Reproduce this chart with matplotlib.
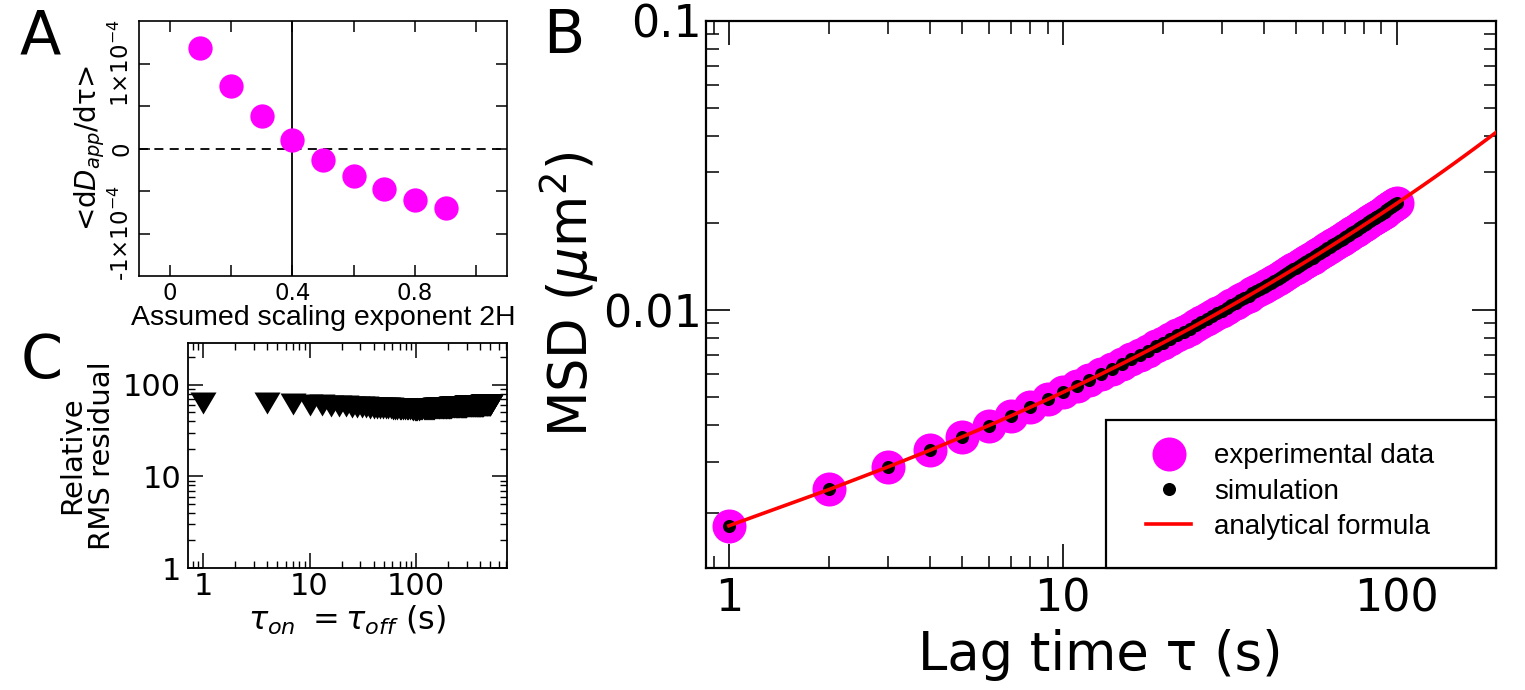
import matplotlib
matplotlib.use('Agg')
import matplotlib.pyplot as plt
from matplotlib.patches import Rectangle
from matplotlib.ticker import FixedLocator, FixedFormatter, LogLocator, NullFormatter

# ---------------- data ----------------
# Panel A
exponent_2h = [0.1, 0.2, 0.3, 0.4, 0.5, 0.6, 0.7, 0.8, 0.9]
ddapp_dtau = [1.18e-4, 0.741e-4, 0.388e-4, 0.102e-4, -0.133e-4,
              -0.318e-4, -0.479e-4, -0.600e-4, -0.698e-4]

# Panel B (MSD in units of 1e-3 um^2)
lag_time = list(range(1, 101))
msd_exp_e3 = [
    1.801, 2.405, 2.877, 3.284, 3.653, 3.995, 4.317, 4.624, 4.919, 5.204,
    5.480, 5.749, 6.012, 6.270, 6.522, 6.770, 7.015, 7.256, 7.493, 7.728,
    7.960, 8.190, 8.417, 8.642, 8.866, 9.087, 9.306, 9.525, 9.742, 9.956,
    10.170, 10.382, 10.593, 10.803, 11.012, 11.219, 11.426, 11.632, 11.837, 12.041,
    12.244, 12.446, 12.648, 12.848, 13.048, 13.247, 13.446, 13.644, 13.841, 14.038,
    14.234, 14.430, 14.625, 14.820, 15.014, 15.207, 15.400, 15.592, 15.784, 15.976,
    16.167, 16.358, 16.548, 16.738, 16.927, 17.117, 17.305, 17.494, 17.681, 17.870,
    18.056, 18.243, 18.430, 18.616, 18.802, 18.988, 19.173, 19.358, 19.544, 19.728,
    19.912, 20.096, 20.281, 20.464, 20.647, 20.830, 21.013, 21.196, 21.378, 21.560,
    21.742, 21.924, 22.105, 22.287, 22.468, 22.648, 22.829, 23.010, 23.190, 23.370]
msd_sim_e3 = list(msd_exp_e3)
formula_tau = lag_time + [110, 120, 130, 140, 150, 160, 170, 180, 190, 200]
formula_msd_e3 = msd_exp_e3 + [25.2, 27.0, 28.8, 30.6, 32.4, 34.2, 36.0, 37.8, 39.6, 41.4]

# Panel C
tau_on_off = list(range(1, 500, 3))
rms_residual = [
    63.5, 63.5, 61.7, 60.6, 59.8, 59.1, 58.6, 58.1, 57.7, 57.4,
    57.1, 56.8, 56.5, 56.3, 56.1, 55.9, 55.7, 55.5, 55.4, 55.2,
    55.0, 54.9, 54.7, 54.6, 54.5, 54.4, 54.2, 54.1, 54.0, 53.9,
    53.8, 53.7, 53.6, 53.5, 53.6, 53.7, 53.8, 53.9, 54.0, 54.1,
    54.3, 54.4, 54.5, 54.6, 54.7, 54.7, 54.8, 54.9, 55.0, 55.1,
    55.2, 55.2, 55.3, 55.4, 55.5, 55.5, 55.6, 55.7, 55.8, 55.8,
    55.9, 56.0, 56.0, 56.1, 56.2, 56.2, 56.3, 56.3, 56.4, 56.5,
    56.5, 56.6, 56.6, 56.7, 56.7, 56.8, 56.9, 56.9, 57.0, 57.0,
    57.1, 57.1, 57.2, 57.2, 57.3, 57.3, 57.4, 57.4, 57.5, 57.5,
    57.6, 57.6, 57.6, 57.7, 57.7, 57.8, 57.8, 57.9, 57.9, 58.0,
    58.0, 58.0, 58.1, 58.1, 58.2, 58.2, 58.2, 58.3, 58.3, 58.4,
    58.4, 58.4, 58.5, 58.5, 58.5, 58.6, 58.6, 58.7, 58.7, 58.7,
    58.8, 58.8, 58.8, 58.9, 58.9, 58.9, 59.0, 59.0, 59.0, 59.1,
    59.1, 59.1, 59.2, 59.2, 59.2, 59.3, 59.3, 59.3, 59.3, 59.4,
    59.4, 59.4, 59.5, 59.5, 59.5, 59.6, 59.6, 59.6, 59.6, 59.7,
    59.7, 59.7, 59.8, 59.8, 59.8, 59.8, 59.9, 59.9, 59.9, 60.0,
    60.0, 60.0, 60.0, 60.1, 60.1, 60.1, 60.2]

MAGENTA = '#ff00ff'
W, H = 1525, 690

fig = plt.figure(figsize=(W / 100, H / 100), dpi=100)


def rect(l, t, r, b):
    return [l / W, 1 - b / H, (r - l) / W, (b - t) / H]


# ---------------- Panel A ----------------
axA = fig.add_axes(rect(139, 21, 507, 276))
axA.plot(exponent_2h, ddapp_dtau, 'o', color=MAGENTA, ms=17.5, mec='none', zorder=3)
axA.axvline(0.4, color='black', lw=1.3, zorder=2)
axA.axhline(0.0, color='black', lw=1.3, ls=(0, (5, 3.5)), zorder=2)
axA.set_xlim(-0.1, 1.1)
axA.set_ylim(-1.5e-4, 1.5e-4)
axA.xaxis.set_major_locator(FixedLocator([0, 0.4, 0.8]))
axA.xaxis.set_major_formatter(FixedFormatter(['0', '0.4', '0.8']))
axA.xaxis.set_minor_locator(FixedLocator([0.2, 0.6, 1.0]))
axA.yaxis.set_major_locator(FixedLocator([-1e-4, 0, 1e-4]))
axA.yaxis.set_major_formatter(FixedFormatter([r'-1$\times$10$^{-4}$', '0', r'1$\times$10$^{-4}$']))
axA.yaxis.set_minor_locator(FixedLocator([-0.5e-4, 0.5e-4]))
axA.tick_params(which='both', direction='in', top=True, right=True, length=8, width=1.1,
                labelsize=16.5, pad=4)
for lab in axA.get_yticklabels():
    lab.set_rotation(90)
    lab.set_va('center')
for s in axA.spines.values():
    s.set_linewidth(1.2)
axA.set_xlabel('Assumed scaling exponent 2H', family='Liberation Sans', fontsize=20.5, labelpad=0)
axA.set_ylabel('<d$D_{app}$/dτ>', fontsize=20, labelpad=1)

# ---------------- Panel C ----------------
axC = fig.add_axes(rect(188, 343, 507, 568))
tri = [(-1, 0.846), (1, 0.846), (0, -0.846)]
axC.plot(tau_on_off, rms_residual, ls='none', marker=tri, ms=18.7, color='black', mec='none')
axC.set_xscale('log')
axC.set_yscale('log')
axC.set_xlim(0.723, 715)
axC.set_ylim(1, 286)
for a in (axC.xaxis, axC.yaxis):
    a.set_major_locator(FixedLocator([1, 10, 100]))
    a.set_major_formatter(FixedFormatter(['1', '10', '100']))
    a.set_minor_locator(LogLocator(base=10, subs=range(2, 10), numticks=20))
    a.set_minor_formatter(NullFormatter())
axC.tick_params(which='major', direction='in', top=True, right=True, length=11, width=1.1,
                labelsize=22)
axC.tick_params(which='minor', direction='in', top=True, right=True, length=5, width=1.0)
axC.tick_params(axis='x', which='major', pad=3)
axC.tick_params(axis='y', which='major', pad=5)
for s in axC.spines.values():
    s.set_linewidth(1.3)
axC.set_xlabel(r'$\tau_{on}$ $=\tau_{off}$ (s)', fontsize=23, labelpad=2)
axC.set_ylabel('Relative\nRMS residual', fontsize=21, labelpad=5, linespacing=1.1)

# ---------------- Panel B ----------------
axB = fig.add_axes(rect(705.7, 20.7, 1495.7, 567.7))
msd_exp = [v * 1e-3 for v in msd_exp_e3]
msd_sim = [v * 1e-3 for v in msd_sim_e3]
formula_msd = [v * 1e-3 for v in formula_msd_e3]
axB.plot(lag_time, msd_exp, 'o', color=MAGENTA, ms=24.5, mec='none', zorder=2,
         label='experimental data')
axB.plot(lag_time, msd_sim, 'o', color='black', ms=9.4, mec='none', zorder=3,
         label='simulation')
axB.plot(formula_tau, formula_msd, '-', color='red', lw=2.6, zorder=4,
         label='analytical formula')
axB.set_xscale('log')
axB.set_yscale('log')
axB.set_xlim(0.852, 198)
axB.set_ylim(0.00129, 0.1)
axB.xaxis.set_major_locator(FixedLocator([1, 10, 100]))
axB.xaxis.set_major_formatter(FixedFormatter(['1', '10', '100']))
axB.yaxis.set_major_locator(FixedLocator([0.01, 0.1]))
axB.yaxis.set_major_formatter(FixedFormatter(['0.01', '0.1']))
for a in (axB.xaxis, axB.yaxis):
    a.set_minor_locator(LogLocator(base=10, subs=range(2, 10), numticks=20))
    a.set_minor_formatter(NullFormatter())
axB.tick_params(which='major', direction='in', top=True, right=True, length=17, width=1.2,
                labelsize=32)
axB.tick_params(which='minor', direction='in', top=True, right=True, length=9, width=1.1)
axB.tick_params(axis='x', which='major', pad=7)
axB.tick_params(axis='y', which='major', pad=3)
for s in axB.spines.values():
    s.set_linewidth(1.6)
axB.set_xlabel('Lag time τ (s)', fontsize=38, labelpad=6)
axB.set_ylabel(r'MSD ($\mu$m$^2$)', fontsize=38, labelpad=1)

axB.add_patch(Rectangle((0.507, 0.0), 0.493, 0.27, transform=axB.transAxes,
                        facecolor='white', edgecolor='black', lw=1.6, zorder=6,
                        clip_on=False))
leg = axB.legend(loc='center left', bbox_to_anchor=(0.557, 0.139), frameon=False,
                 borderpad=0, borderaxespad=0, handlelength=1.64, handletextpad=0.82,
                 labelspacing=0.34, prop={'family': 'Liberation Sans', 'size': 20})
leg.set_zorder(7)

# ---------------- panel letters ----------------
fig.text(20 / W, 1 - 53 / H, 'A', fontsize=43.5, va='baseline', ha='left')
fig.text(543 / W, 1 - 53 / H, 'B', fontsize=43.5, va='baseline', ha='left')
fig.text(21 / W, 1 - 378 / H, 'C', fontsize=43.5, va='baseline', ha='left')

fig.savefig('out.png', dpi=100)
